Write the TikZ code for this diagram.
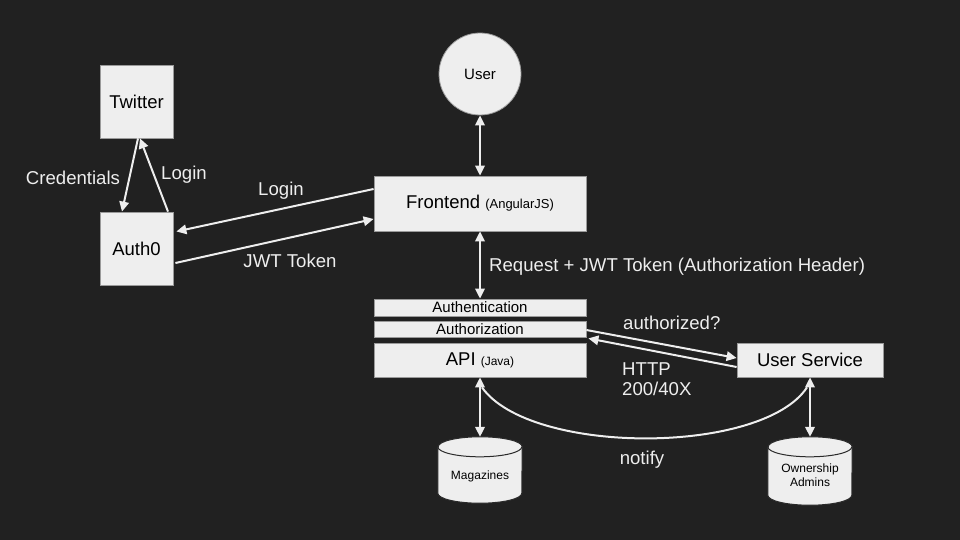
\documentclass[tikz,border=0pt]{standalone}
\usepackage{fontspec}
\setmainfont{Liberation Sans}
\usetikzlibrary{arrows.meta,calc}
\definecolor{bg}{HTML}{212121}
\definecolor{boxfill}{HTML}{EEEEEE}
\definecolor{boxline}{HTML}{9A9A9A}
\definecolor{fg}{HTML}{EEEEEE}
\definecolor{dbline}{HTML}{2A2A2A}
\newcommand\dbcyl[2]{% node name, x radius
  \path[dbdraw] ($(#1.north west)+(0,10)$) -- ($(#1.south west)+(0,-10)$)
    arc[start angle=180,end angle=0,x radius=#2,y radius=10]
    -- ($(#1.north east)+(0,10)$)
    arc[start angle=360,end angle=180,x radius=#2,y radius=10] -- cycle;
  \draw[dbline,line width=1pt] ($(#1.north west)+(0,10)$)
    arc[start angle=180,end angle=0,x radius=#2,y radius=10];
}
\begin{document}
\begin{tikzpicture}[x=1pt,y=-1pt,
  box/.style={draw=boxline, line width=0.8pt, fill=boxfill, text=black, inner sep=0pt,
    font=\fontsize{18.5}{21}\selectfont},
  thinbox/.style={box, font=\fontsize{15}{17}\selectfont},
  dbshape/.style={draw=none, inner sep=0pt},
  dbdraw/.style={draw=dbline, line width=1pt, fill=boxfill},
  dblabel/.style={text=black, inner sep=0pt, align=center, font=\fontsize{12}{14}\selectfont},
  tip/.tip={Triangle[length=10pt,width=9.5pt]},
  conn/.style={draw=fg, line width=2pt, -tip},
  biconn/.style={draw=fg, line width=2pt, tip-tip},
  lbl/.style={text=fg, inner sep=0pt, font=\fontsize{18.6}{21}\selectfont}
]
\fill[bg] (0,0) rectangle (960,540);
\useasboundingbox (0,0) rectangle (960,540);

% nodes
\node[box, minimum width=73pt, minimum height=73pt] (twitter) at (136.5,101.5) {Twitter};
\node[box, minimum width=73pt, minimum height=73pt] (auth0) at (136.5,248.5) {Auth0};
\node[box, circle, minimum size=82pt, font=\fontsize{15}{17}\selectfont] (user) at (480,74) {User};
\node[box, minimum width=212pt, minimum height=55pt] (frontend) at (480,203.5)
  {Frontend {\fontsize{13}{15}\selectfont(AngularJS)}};
\node[thinbox, minimum width=212pt, minimum height=17pt] (authn) at (480,307.5) {Authentication};
\node[thinbox, minimum width=212pt, minimum height=16pt] (authz) at (480,329) {Authorization};
\node[box, minimum width=212pt, minimum height=34pt] (api) at (480,360)
  {API {\fontsize{12}{14}\selectfont(Java)}};
\node[box, minimum width=146pt, minimum height=34pt] (usersvc) at (810,360) {User Service};

\node[dbshape, minimum width=84pt, minimum height=66pt] (mag) at (480,470) {};
\dbcyl{mag}{42}
\node[dblabel] (maglbl) at (480,476) {Magazines};
\node[dbshape, minimum width=84pt, minimum height=68pt] (own) at (810,471) {};
\dbcyl{own}{42}
\node[dblabel] (ownlbl) at (810,475) {Ownership\\Admins};

% connectors
\draw[conn] ([xshift=1.5pt]twitter.south) -- ([xshift=-14.5pt]auth0.north);
\draw[conn] ([xshift=31.5pt]auth0.north) -- ([xshift=3.5pt]twitter.south);
\draw[conn] ([yshift=14.5pt]frontend.west) -- ([xshift=3pt,yshift=17pt]auth0.east);
\draw[conn] ([xshift=2pt,yshift=-14.5pt]auth0.east) -- ([yshift=-15.5pt]frontend.west);
\draw[biconn] (user.south) -- (frontend.north);
\draw[biconn] (frontend.south) -- (authn.north);
\draw[biconn] (api.south) -- (mag.north);
\draw[biconn] (usersvc.south) -- (own.north);
\draw[conn] ([yshift=-1pt]authz.east) -- ([yshift=2pt]usersvc.west);
\draw[conn] ([yshift=-7pt]usersvc.west) -- ([xshift=2pt,yshift=-1pt]authz.south east);
\draw[draw=fg, line width=2pt] ([xshift=2pt,yshift=-10pt]api.south)
  .. controls +(48,68) and +(-45,68) .. ([xshift=-3pt,yshift=-10pt]usersvc.south);

% labels
\node[lbl] (lcred) at (73,178) {Credentials};
\node[lbl] (llogin1) at (184,175) {Login};
\node[lbl] (llogin2) at (281,191) {Login};
\node[lbl] (ljwt) at (290,261) {JWT Token};
\node[lbl, anchor=west] (lreq) at (489,267) {Request + JWT Token (Authorization Header)};
\node[lbl, anchor=west] (lauthq) at (623,323) {authorized?};
\node[lbl, anchor=west, align=left, font=\fontsize{18.6}{20}\selectfont] (lhttp) at (622,379) {HTTP\\200/40X};
\node[lbl] (lnotify) at (642,460) {notify};
\end{tikzpicture}
\end{document}
